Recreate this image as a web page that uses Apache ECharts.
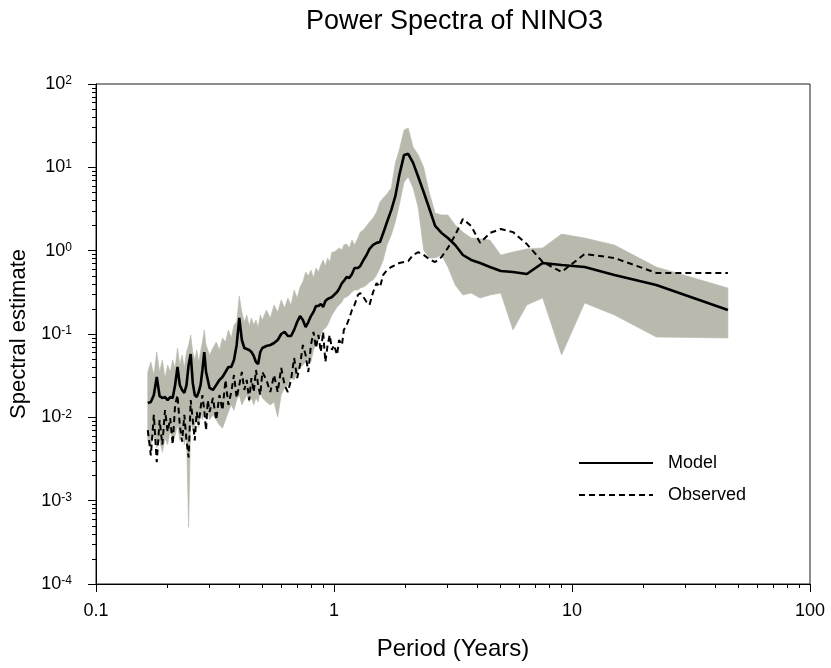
<!DOCTYPE html>
<html><head><meta charset="utf-8">
<script src="https://cdn.jsdelivr.net/npm/echarts@6/dist/echarts.min.js"></script>
<style>html,body{margin:0;padding:0;background:#fff}#c{width:831px;height:668px}</style>
</head><body><div id="c"></div>
<script>
// Period (years) of each spectral estimate
const periods = [
  0.165,0.17,0.175,0.18,0.185,0.19,0.195,0.2,0.205,0.21,0.215,0.22,0.225,0.23,0.235,0.24,0.245,0.25,0.255,0.26,0.265,0.27,0.275,0.28,0.285,0.29,0.295,0.3,
  0.31,0.32,0.33,0.34,0.35,0.36,0.37,0.38,0.39,0.4,0.41,0.42,0.43,0.44,0.45,0.46,0.47,0.48,0.49,0.5,
  0.52,0.54,0.56,0.58,0.6,0.62,0.64,0.66,0.68,0.7,0.72,0.74,0.76,0.78,0.8,0.82,0.84,0.86,0.88,0.9,0.92,0.94,0.96,0.98,
  1.0,1.03,1.05,1.08,1.1,1.13,1.16,1.19,1.22,1.26,1.29,1.33,1.37,1.41,1.46,1.51,1.56,1.61,1.67,1.74,1.81,1.88,1.97,2.05,2.15,2.26,2.38,2.51,2.66,2.83,3.01,3.23,3.48,3.77,4.11,4.52,5.02,5.65,6.46,7.53,9.04,11.3,15.07,22.6,45.2
];
const modelValues = [
  0.0149,0.0153,0.0185,0.0305,0.0180,0.0171,0.0175,0.0161,0.0175,0.0171,0.0244,0.0402,0.0244,0.0213,0.0196,0.0244,0.0425,0.0575,0.0258,0.0185,0.0175,0.0201,0.0244,0.0370,0.0608,0.0350,0.0281,0.0225,
  0.0213,0.0244,0.0281,0.0305,0.0350,0.0402,0.0402,0.0488,0.0738,0.156,0.0847,0.0679,0.0661,0.0643,0.0608,0.0545,0.0461,0.0437,0.0608,0.0679,
  0.0718,0.0738,0.0780,0.0847,0.100,0.106,0.0946,0.0946,0.112,0.139,0.164,0.147,0.121,0.139,0.164,0.184,0.217,0.217,0.229,0.211,0.249,0.263,0.270,0.278,
  0.294,0.319,0.347,0.409,0.433,0.483,0.470,0.525,0.619,0.619,0.655,0.773,0.887,1.05,1.17,1.24,1.27,1.63,2.21,3.07,4.5,8.0,14.1,14.5,11.3,7.66,5.06,3.25,1.98,1.63,1.42,1.17,0.887,0.773,0.711,0.637,0.570,0.555,0.525,0.711,0.673,0.637,0.511,0.387,0.194
];
const observedValues = [
  0.0070,0.0035,0.0107,0.0029,0.0093,0.0047,0.0122,0.0067,0.0098,0.0047,0.0141,0.0185,0.0081,0.0051,0.0107,0.0053,0.0033,0.0161,0.0093,0.0053,0.0116,0.0081,0.0129,0.0185,0.0122,0.0070,0.0161,0.0116,
  0.0171,0.0093,0.0185,0.0122,0.0281,0.0141,0.0201,0.0322,0.0171,0.0244,0.0350,0.0213,0.0281,0.0161,0.0296,0.0201,0.0370,0.0244,0.0185,0.0350,
  0.0281,0.0201,0.0322,0.0201,0.0391,0.0244,0.0201,0.0281,0.0515,0.0296,0.0425,0.0738,0.0560,0.0350,0.0738,0.106,0.0679,0.0973,0.0608,0.106,0.0461,0.0738,0.0973,0.0643,
  0.0738,0.0560,0.0847,0.0738,0.112,0.128,0.156,0.194,0.223,0.294,0.310,0.278,0.242,0.223,0.319,0.409,0.366,0.511,0.586,0.637,0.673,0.711,0.731,0.75,0.89,0.96,0.89,0.79,0.73,0.84,1.08,1.54,2.40,1.98,1.24,1.63,1.82,1.67,1.20,0.731,0.555,0.912,0.817,0.540,0.540
];
const upperBound = [
  0.0350,0.0461,0.0322,0.0608,0.0350,0.0488,0.0296,0.0425,0.0350,0.0488,0.0391,0.0679,0.0425,0.0560,0.0391,0.0608,0.0738,0.0973,0.0608,0.0488,0.0643,0.0461,0.0608,0.0802,0.112,0.0738,0.0643,0.0560,
  0.0679,0.0802,0.0643,0.0895,0.0802,0.112,0.0895,0.128,0.139,0.286,0.184,0.139,0.169,0.125,0.156,0.128,0.147,0.118,0.169,0.147,
  0.194,0.156,0.223,0.184,0.256,0.205,0.270,0.223,0.337,0.270,0.366,0.421,0.555,0.497,0.586,0.470,0.619,0.555,0.673,0.773,0.655,0.817,0.731,0.964,
  0.964,1.02,1.08,1.02,1.17,1.20,1.08,1.34,1.17,1.42,1.67,1.77,1.98,2.21,2.47,2.91,3.84,4.29,4.8,5.65,11.3,16.1,28,29.7,17.5,14.1,10.1,5.06,2.83,2.68,2.68,2.03,1.67,1.42,1.38,1.34,0.887,0.964,1.05,1.08,1.58,1.42,1.17,0.637,0.356
];
const lowerBound = [
  0.0053,0.0047,0.0061,0.0043,0.0053,0.0038,0.0056,0.0047,0.0070,0.0051,0.0061,0.0081,0.0053,0.0067,0.0047,0.0061,0.00048,0.0093,0.0070,0.0081,0.0098,0.0074,0.0116,0.0093,0.0122,0.0098,0.0116,0.0093,
  0.0107,0.0093,0.0081,0.0074,0.0093,0.0116,0.0141,0.0122,0.0161,0.0185,0.0141,0.0161,0.0185,0.0153,0.0171,0.0141,0.0171,0.0153,0.0201,0.0171,
  0.0153,0.0141,0.0153,0.0101,0.0185,0.0225,0.0244,0.0296,0.0281,0.0350,0.0391,0.0425,0.0461,0.0515,0.0461,0.0643,0.0738,0.0847,0.0973,0.112,0.118,0.128,0.147,0.169,
  0.184,0.211,0.223,0.242,0.270,0.278,0.294,0.319,0.337,0.337,0.356,0.366,0.387,0.421,0.445,0.511,0.619,0.773,1.17,1.54,2.21,3.53,6.67,7.66,5.65,3.25,1.02,0.817,0.817,0.887,0.637,0.387,0.294,0.310,0.270,0.294,0.310,0.112,0.223,0.270,0.0560,0.236,0.169,0.0920,0.0895
];
const xMajorTicks = [0.1, 1, 10, 100];
const xMinorTicks = [0.2,0.3,0.4,0.5,0.6,0.7,0.8,0.9,2,3,4,5,6,7,8,9,20,30,40,50,60,70,80,90];
const yMajorTicks = [0.0001, 0.001, 0.01, 0.1, 1, 10, 100];
const yMinorTicks = [0.0002,0.0003,0.0004,0.0005,0.0006,0.0007,0.0008,0.0009,
  0.002,0.003,0.004,0.005,0.006,0.007,0.008,0.009,
  0.02,0.03,0.04,0.05,0.06,0.07,0.08,0.09,
  0.2,0.3,0.4,0.5,0.6,0.7,0.8,0.9,
  2,3,4,5,6,7,8,9,20,30,40,50,60,70,80,90];

const FONT = '"Liberation Sans", Arial, sans-serif';
const chart = echarts.init(document.getElementById('c'), null, {renderer: 'canvas'});
const modelData = periods.map((p, i) => [p, modelValues[i]]);
const observedData = periods.map((p, i) => [p, observedValues[i]]);
const axisColor = '#000';

const option = {
  animation: false,
  backgroundColor: '#fff',
  title: {
    text: 'Power Spectra of NINO3',
    left: 301, top: 3,
    textStyle: {fontFamily: FONT, fontSize: 27, fontWeight: 'normal', color: '#000'}
  },
  grid: {left: 96, right: 21, top: 84, bottom: 84, show: true, borderColor: '#1a1a1a', borderWidth: 1, backgroundColor: 'transparent'},
  legend: {
    data: ['Model', 'Observed'],
    orient: 'vertical', left: 578, top: 454, padding: 0,
    itemWidth: 74, itemHeight: 14, itemGap: 14,
    itemStyle: {opacity: 0, borderWidth: 0},
    textStyle: {fontFamily: FONT, fontSize: 18, color: '#000', padding: [0, 0, 0, 10]}
  },
  xAxis: [{
    type: 'log', logBase: 10, min: 0.1, max: 100, position: 'bottom',
    name: 'Period (Years)', nameLocation: 'middle', nameGap: 53,
    nameTextStyle: {fontFamily: FONT, fontSize: 24, color: '#000'},
    axisLine: {show: true, lineStyle: {color: axisColor, width: 1}},
    axisTick: {show: true, length: 8, customValues: xMajorTicks, lineStyle: {color: axisColor}},
    axisLabel: {customValues: xMajorTicks, margin: 18, fontFamily: FONT, fontSize: 18, color: '#000',
      formatter: v => String(v)},
    splitLine: {show: false}, minorTick: {show: false}
  }, {
    type: 'log', logBase: 10, min: 0.1, max: 100, position: 'bottom',
    axisLine: {show: false},
    axisTick: {show: true, length: 4, customValues: xMinorTicks, lineStyle: {color: axisColor}},
    axisLabel: {show: false}, splitLine: {show: false}
  }],
  yAxis: [{
    type: 'log', logBase: 10, min: 0.0001, max: 100, position: 'left',
    name: 'Spectral estimate', nameLocation: 'middle', nameGap: 62,
    nameTextStyle: {fontFamily: FONT, fontSize: 22, color: '#000'},
    axisLine: {show: true, lineStyle: {color: axisColor, width: 1}},
    axisTick: {show: true, length: 8, customValues: yMajorTicks, lineStyle: {color: axisColor}},
    axisLabel: {customValues: yMajorTicks, margin: 24,
      formatter: v => '{b|10}{s|' + Math.round(Math.log(v) / Math.LN10) + '}',
      rich: {
        b: {fontFamily: FONT, fontSize: 18, color: '#000'},
        s: {fontFamily: FONT, fontSize: 12, color: '#000', verticalAlign: 'top'}
      }},
    splitLine: {show: false}, minorTick: {show: false}
  }, {
    type: 'log', logBase: 10, min: 0.0001, max: 100, position: 'left',
    axisLine: {show: false},
    axisTick: {show: true, length: 4, customValues: yMinorTicks, lineStyle: {color: axisColor}},
    axisLabel: {show: false}, splitLine: {show: false}
  }],
  series: [{
    type: 'custom', name: 'band', xAxisIndex: 0, yAxisIndex: 0, silent: true, z: 1,
    data: [[periods[0], upperBound[0]]],
    renderItem: function (params, api) {
      const pts = [];
      for (let i = 0; i < periods.length; i++) pts.push(api.coord([periods[i], upperBound[i]]));
      for (let i = periods.length - 1; i >= 0; i--) pts.push(api.coord([periods[i], lowerBound[i]]));
      return {type: 'polygon', shape: {points: pts}, style: {fill: '#b9b9ae', stroke: '#b9b9ae', lineWidth: 0.6}};
    }
  }, {
    type: 'line', name: 'Observed', xAxisIndex: 0, yAxisIndex: 0, z: 2,
    data: observedData, symbol: 'none', showSymbol: false,
    lineStyle: {color: '#000', width: 2, type: [6, 4]}, itemStyle: {color: '#000'}
  }, {
    type: 'line', name: 'Model', xAxisIndex: 0, yAxisIndex: 0, z: 3,
    data: modelData, symbol: 'none', showSymbol: false,
    lineStyle: {color: '#000', width: 2.6}, itemStyle: {color: '#000'}
  }]
};
chart.setOption(option);
</script></body></html>
